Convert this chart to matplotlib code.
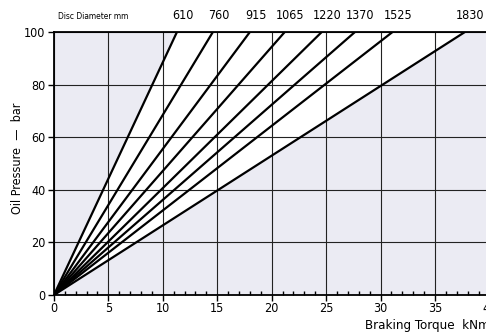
import matplotlib.pyplot as plt
from matplotlib.ticker import MultipleLocator

# disc diameters (mm) and braking torque (kNm) reached at 100 bar
diameters = [610, 760, 915, 1065, 1220, 1370, 1525, 1830]
torque_at_100 = [11.3, 14.6, 18.0, 21.2, 24.6, 27.65, 31.1, 37.75]
pressure = [0, 100]

plt.rcParams['font.family'] = ['DejaVu Sans']
plt.rcParams['font.stretch'] = 'condensed'

fig = plt.figure(figsize=(4.86, 3.33), dpi=100)
ax = fig.add_axes([0.111, 0.1141, 0.896, 0.7898])
ax.set_facecolor('#ebebf3')

# white wedge between smallest and largest disc lines
ax.fill([0, torque_at_100[0], torque_at_100[-1]], [0, 100, 100],
        color='white', zorder=1, lw=0)

for t in torque_at_100:
    ax.plot([0, t], pressure, color='black', lw=1.6, zorder=3,
            solid_capstyle='butt')

ax.set_xlim(0, 40)
ax.set_ylim(0, 100)
ax.xaxis.set_major_locator(MultipleLocator(5))
ax.xaxis.set_minor_locator(MultipleLocator(1))
ax.yaxis.set_major_locator(MultipleLocator(20))

ax.grid(True, which='major', color='#222222', lw=0.8, zorder=2)
for s in ['left', 'bottom', 'top']:
    ax.spines[s].set_linewidth(1.3)
    ax.spines[s].set_zorder(4)
ax.spines['right'].set_visible(False)

ax.tick_params(axis='x', which='major', direction='out', length=4, width=1,
               labelsize=9, pad=1)
ax.tick_params(axis='x', which='minor', direction='in', length=3, width=1)
ax.tick_params(axis='y', which='major', direction='out', length=4, width=1,
               labelsize=9, pad=2)

ax.set_ylabel('Oil Pressure  —  bar', fontsize=9)
ax.yaxis.set_label_coords(-0.069, 0.52)
ax.set_xlabel('Braking Torque  kNm', fontsize=9.5, loc='right', labelpad=3)

# diameter labels above the line ends
for d, t in zip(diameters, torque_at_100):
    ax.annotate(str(d), (t, 100), xytext=(4, 7), textcoords='offset points',
                ha='center', va='bottom', fontsize=9)
ax.annotate('Disc Diameter mm', (0, 100), xytext=(3, 8), textcoords='offset points',
            ha='left', va='bottom', fontsize=6)

fig.savefig('out.png', dpi=100)
